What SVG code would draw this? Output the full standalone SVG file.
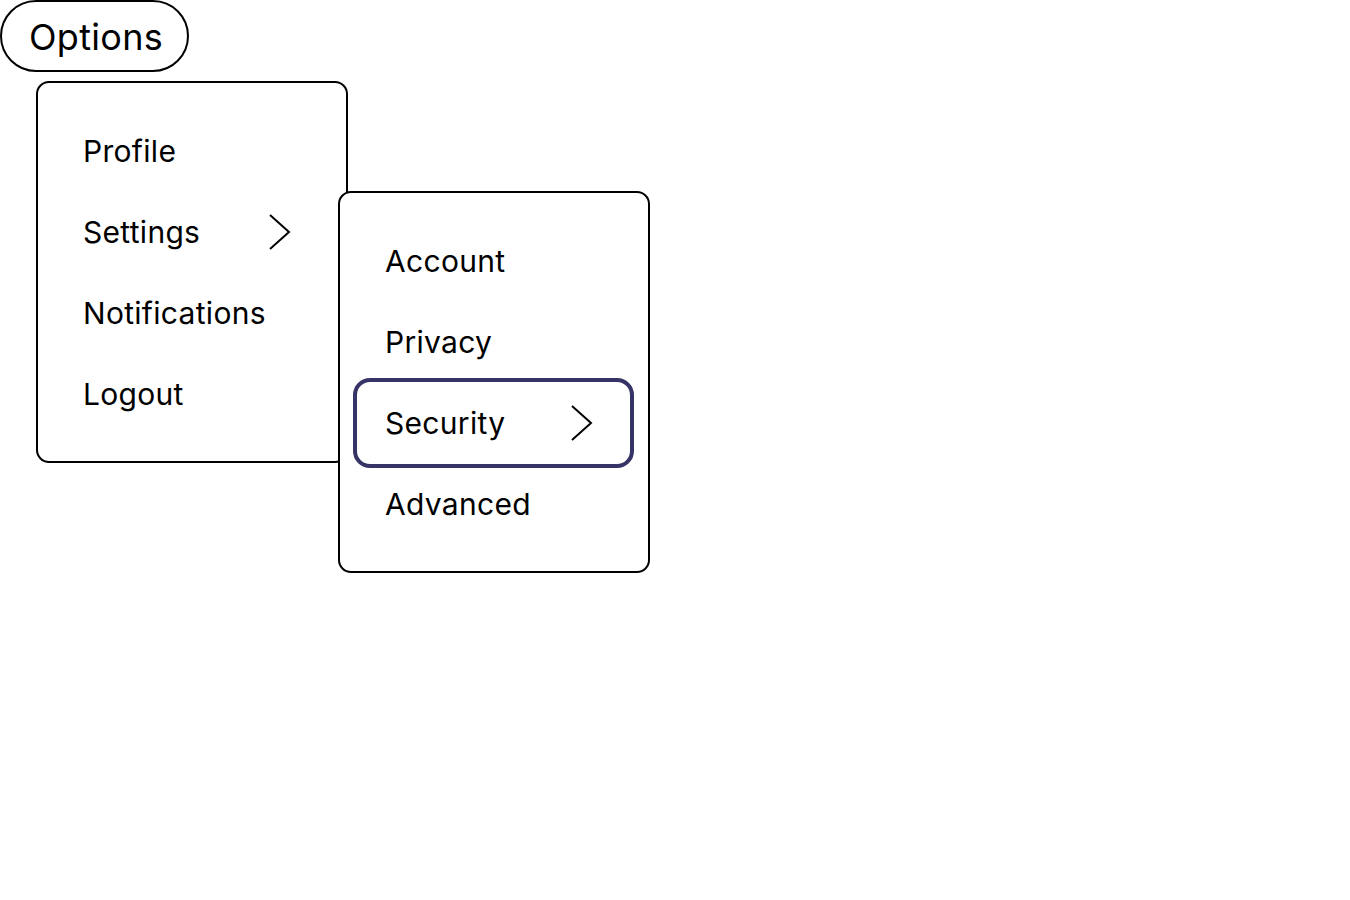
<svg xmlns="http://www.w3.org/2000/svg" width="1350" height="900" viewBox="0 0 1350 900">
<style>
.box{fill:#fff;stroke:#000;stroke-width:2}
.t{font-family:Inter,"Noto Sans","Liberation Sans",sans-serif;font-size:30px;fill:#000;letter-spacing:0.3px}
.chev{fill:none;stroke:#000;stroke-width:2}
.hl{fill:none;stroke:#363466;stroke-width:4}
</style>
<rect width="1350" height="900" fill="#fff"/>
<g id="options-button">
<rect class="box" x="1" y="1" width="187" height="70" rx="35"/>
<text class="t" x="29" y="50" style="font-size:36px">Options</text>
</g>
<g id="main-menu">
<rect class="box" x="37" y="82" width="310" height="380" rx="12"/>
<text class="t" x="83" y="162">Profile</text>
<text class="t" x="83" y="243">Settings</text>
<path class="chev" d="M270,215 L289,232 L270,249"/>
<text class="t" x="83" y="324">Notifications</text>
<text class="t" x="83" y="405">Logout</text>
</g>
<g id="settings-submenu">
<rect class="box" x="339" y="192" width="310" height="380" rx="12"/>
<text class="t" x="385" y="272">Account</text>
<text class="t" x="385" y="353">Privacy</text>
<rect class="hl" x="355" y="380" width="277" height="86" rx="15"/>
<text class="t" x="385" y="434">Security</text>
<path class="chev" d="M572,406 L591,423 L572,440"/>
<text class="t" x="385" y="515">Advanced</text>
</g>
<g id="connectors"></g>
</svg>
